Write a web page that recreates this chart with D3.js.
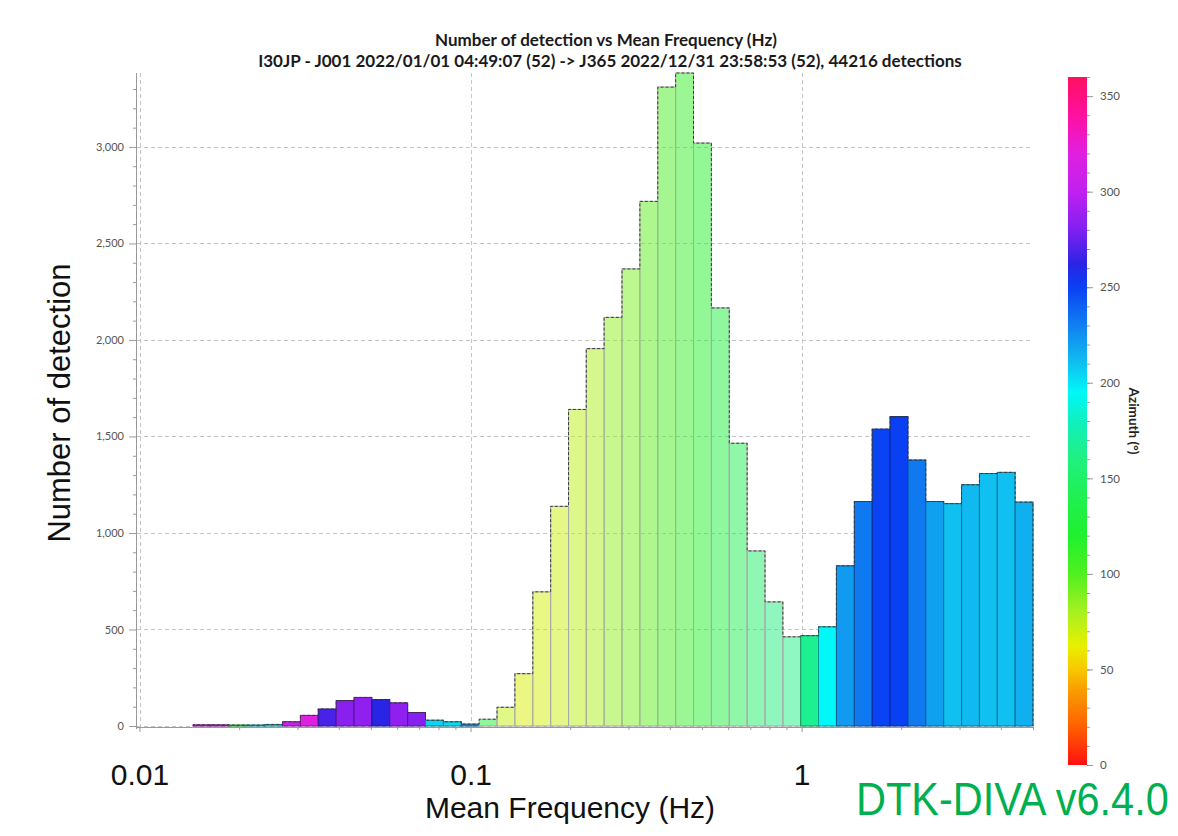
<!DOCTYPE html>
<html><head><meta charset="utf-8">
<script src="https://cdn.jsdelivr.net/npm/d3@7"></script>
<style>body{margin:0;background:#fff;overflow:hidden} svg{display:block}</style>
</head><body><svg id="c" width="1178" height="836"></svg>
<script>
// ---------- data ----------
const binEdges = [0.01, 0.01132, 0.01282, 0.01452, 0.01644, 0.01862, 0.02109, 0.02388, 0.02704, 0.03062,
  0.03467, 0.03927, 0.04446, 0.05035, 0.05702, 0.06457, 0.07311, 0.08279, 0.09375, 0.1062,
  0.1202, 0.1361, 0.1542, 0.1746, 0.1977, 0.2236, 0.2532, 0.2867, 0.3247, 0.3677,
  0.4164, 0.4715, 0.5339, 0.6046, 0.6846, 0.7753, 0.8779, 0.9937, 1.125, 1.274,
  1.443, 1.634, 1.850, 2.095, 2.372, 2.687, 3.042, 3.445, 3.901, 4.416, 5.0];
const counts = [0, 0, 0, 6, 6, 5, 5, 8, 22, 55,
  88, 132, 148, 137, 120, 70, 30, 22, 10, 35,
  97, 271, 695, 1138, 1640, 1955, 2117, 2368, 2718, 3310,
  3383, 3020, 2166, 1465, 907, 643, 462, 468, 514, 830,
  1163, 1538, 1603, 1378, 1163, 1152, 1250, 1308, 1314, 1160];
const azimuths = [null, null, null, 310, 310, 120, 200, 200, 305, 318,
  268, 283, 285, 262, 285, 282, 205, 203, 222, 125,
  72, 66, 68, 70, 74, 79, 85, 90, 97, 103,
  110, 118, 128, 140, 150, 158, 162, 165, 195, 222,
  232, 249, 250, 232, 220, 210, 212, 210, 210, 215];
const coherent = [1, 1, 1, 1, 1, 1, 1, 1, 1, 1,
  1, 1, 1, 1, 1, 1, 1, 1, 1, 0,
  0, 0, 0, 0, 0, 0, 0, 0, 0, 0,
  0, 0, 0, 0, 0, 0, 0, 1, 1, 1,
  1, 1, 1, 1, 1, 1, 1, 1, 1, 1];
const yMajorTicks = [0, 500, 1000, 1500, 2000, 2500, 3000];
const yMinorTicks = [100,200,300,400,600,700,800,900,1100,1200,1300,1400,1600,1700,1800,1900,2100,2200,2300,2400,2600,2700,2800,2900,3100,3200,3300];
const xTickLabels = [0.01, 0.1, 1];
const xMinorTicks = [0.02,0.03,0.04,0.05,0.06,0.07,0.08,0.09,0.2,0.3,0.4,0.5,0.6,0.7,0.8,0.9,2,3,4,5];
const colorbarTicks = [0, 50, 100, 150, 200, 250, 300, 350];
const colorbarMinor = [0,10,20,30,40,50,60,70,80,90,100,110,120,130,140,150,160,170,180,190,200,210,220,230,240,250,260,270,280,290,300,310,320,330,340,350,360];
const azimuthStops = [0, 20, 40, 50, 62, 80, 100, 120, 140, 160, 180, 195, 210, 230, 250, 262, 280, 300, 320, 340, 360];
const colorStops = ["#ff1010","#ff6000","#f8a000","#f8c800","#e8f000","#a8f020","#50f020","#20f030","#20f050","#20f080",
  "#10f0c0","#00f8f8","#10c0f0","#1080f0","#0a40f4","#2a24e4","#8020f0","#c020f0","#e020e0","#ff10a0","#ff1060"];
const titleLines = ["Number of detection vs Mean Frequency (Hz)",
  "I30JP - J001 2022/01/01 04:49:07 (52) -> J365 2022/12/31 23:58:53 (52), 44216 detections"];

// ---------- layout ----------
const svg = d3.select("#c");
const axisX = 137, plotTop = 73, plotBottom = 726, plotRight = 1033;
const x = d3.scaleLog().domain([0.01, 5]).range([139.5, plotRight]);
const y = d3.scaleLinear().domain([0, d3.max(counts)]).range([plotBottom, plotTop]);
const color = d3.scaleLinear().domain(azimuthStops).range(colorStops);

// title
svg.append("g").selectAll("text").data(titleLines).join("text")
  .attr("x", (d, i) => i === 0 ? 606 : 610)
  .attr("y", (d, i) => i === 0 ? 46 : 67)
  .attr("text-anchor", "middle")
  .style("font-family", "Lato, 'Open Sans', sans-serif")
  .style("font-weight", "bold").style("font-size", "17px").style("fill", "#1a1a1a")
  .text(d => d);

// grid
const grid = svg.append("g").attr("stroke", "#c4c4c4").attr("stroke-dasharray", "4,3").attr("stroke-width", 1);
grid.selectAll("line.h").data(yMajorTicks).join("line").attr("class", "h")
  .attr("x1", axisX).attr("x2", plotRight)
  .attr("y1", d => Math.round(y(d)) + 0.5).attr("y2", d => Math.round(y(d)) + 0.5);
grid.selectAll("line.v").data(xTickLabels).join("line").attr("class", "v")
  .attr("y1", plotTop).attr("y2", plotBottom + 1)
  .attr("x1", d => Math.round(x(d)) + 0.5).attr("x2", d => Math.round(x(d)) + 0.5);

// bars
const bins = counts.map((n, i) => ({x0: binEdges[i], x1: binEdges[i + 1], n, az: azimuths[i], coh: coherent[i]}))
  .filter(d => d.n > 0);
svg.append("g").selectAll("rect").data(bins).join("rect")
  .attr("x", d => x(d.x0))
  .attr("width", d => x(d.x1) - x(d.x0))
  .attr("y", d => y(d.n))
  .attr("height", d => y(0) - y(d.n))
  .attr("fill", d => color(d.az))
  .attr("fill-opacity", d => d.coh ? 1 : 0.5)
  .attr("stroke", d => d.coh ? d3.color(color(d.az)).darker(1.4) : "#a8a8a8")
  .attr("stroke-width", 1);

// dashed outline of histogram
const first = bins[0], last = bins[bins.length - 1];
const pts = [[first.x0, 0]].concat(bins.map(d => [d.x0, d.n]), [[last.x1, last.n], [last.x1, 0]]);
svg.append("path")
  .attr("d", d3.line().x(d => x(d[0])).y(d => y(d[1])).curve(d3.curveStepAfter)(pts))
  .attr("fill", "none").attr("stroke", "#3a3a3a").attr("stroke-width", 1)
  .attr("stroke-dasharray", "3,2");

// y axis
const yAxisG = svg.append("g").attr("transform", `translate(${axisX},0)`);
yAxisG.call(d3.axisLeft(y).tickValues(yMajorTicks).tickSize(8).tickPadding(5).tickFormat(d3.format(",")));
const yMin = svg.append("g").attr("transform", `translate(${axisX},0)`);
yMin.call(d3.axisLeft(y).tickValues(yMinorTicks).tickSize(4).tickFormat(""));
yMin.select(".domain").remove();
[yAxisG, yMin].forEach(g => {
  g.selectAll("line").attr("stroke", "#9a9a9a");
  g.select(".domain").attr("stroke", "#9a9a9a").attr("d", `M-0.5,${plotTop}V${plotBottom + 3}`);
  g.selectAll("text").style("font-family", "Lato, sans-serif").style("font-size", "11px").attr("fill", "#555");
});

// x axis
const xAxisG = svg.append("g").attr("transform", `translate(0,${plotBottom + 1})`);
xAxisG.call(d3.axisBottom(x).tickValues(xMinorTicks).tickSize(3).tickFormat(""));
xAxisG.select(".domain").attr("stroke", "#9a9a9a").attr("d", `M${axisX},0.5H${plotRight}`);
xAxisG.selectAll("line").attr("stroke", "#9a9a9a");
const xMajG = svg.append("g").attr("transform", `translate(0,${plotBottom + 1})`);
xMajG.call(d3.axisBottom(x).tickValues(xTickLabels).tickSize(5).tickPadding(32).tickFormat(d => String(d)));
xMajG.select(".domain").remove();
xMajG.selectAll("line").attr("stroke", "#9a9a9a");
xMajG.selectAll("text").style("font-family", "'Liberation Sans', Arial, sans-serif").style("font-size", "30px").attr("fill", "#111");

// axis titles
svg.append("text").attr("x", 570).attr("y", 818).attr("text-anchor", "middle")
  .style("font-family", "'Liberation Sans', Arial, sans-serif").style("font-size", "30px").attr("fill", "#111")
  .text("Mean Frequency (Hz)");
svg.append("text").attr("transform", "translate(70,403) rotate(-90)").attr("text-anchor", "middle")
  .style("font-family", "'Liberation Sans', Arial, sans-serif").style("font-size", "31px").attr("fill", "#111")
  .text("Number of detection");

// colorbar
const cb = d3.scaleLinear().domain([0, 360]).range([765, 77]);
const defs = svg.append("defs");
const grad = defs.append("linearGradient").attr("id", "azg").attr("x1", 0).attr("y1", 1).attr("x2", 0).attr("y2", 0);
grad.selectAll("stop").data(azimuthStops).join("stop")
  .attr("offset", d => d / 360).attr("stop-color", d => color(d));
svg.append("rect").attr("x", 1068).attr("width", 19).attr("y", cb(360)).attr("height", cb(0) - cb(360))
  .attr("fill", "url(#azg)");
const cbG = svg.append("g").attr("transform", "translate(1087,0)");
cbG.call(d3.axisRight(cb).tickValues(colorbarTicks).tickSize(6).tickPadding(7));
const cbMin = svg.append("g").attr("transform", "translate(1087,0)");
cbMin.call(d3.axisRight(cb).tickValues(colorbarMinor).tickSize(3).tickFormat(""));
[cbG, cbMin].forEach(g => {
  g.select(".domain").remove();
  g.selectAll("line").attr("stroke", "#9a9a9a");
  g.selectAll("text").style("font-family", "Lato, sans-serif").style("font-size", "11.5px").attr("fill", "#555");
});
svg.append("text").attr("transform", "translate(1129,421) rotate(90)").attr("text-anchor", "middle")
  .style("font-family", "Lato, sans-serif").style("font-weight", "bold").style("font-size", "13.5px").attr("fill", "#222")
  .text("Azimuth (°)");

// watermark
svg.append("text").attr("transform", "translate(856,815) scale(1,1.12)")
  .style("font-family", "'Liberation Sans', Arial, sans-serif").style("font-size", "41.5px").attr("fill", "#00b050")
  .text("DTK-DIVA v6.4.0");
</script></body></html>
